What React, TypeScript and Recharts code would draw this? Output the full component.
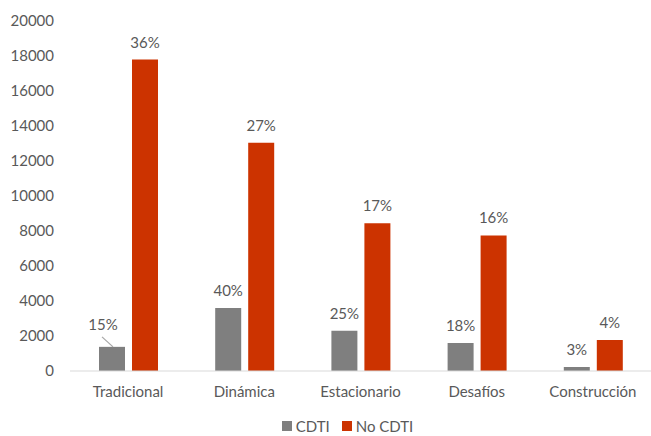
import React from 'react';
import { BarChart, Bar, XAxis, YAxis, Legend, LabelList } from 'recharts';

const categories = ['Tradicional', 'Dinámica', 'Estacionario', 'Desafíos', 'Construcción'];
const cdti = [1380, 3600, 2300, 1600, 230];
const noCdti = [17800, 13050, 8450, 7750, 1770];
const cdtiPct = ['15%', '40%', '25%', '18%', '3%'];
const noCdtiPct = ['36%', '27%', '17%', '16%', '4%'];
const yTicks = [0, 2000, 4000, 6000, 8000, 10000, 12000, 14000, 16000, 18000, 20000];

const data = categories.map((name, i) => ({
  name,
  cdti: cdti[i],
  noCdti: noCdti[i],
  cdtiPct: cdtiPct[i],
  noCdtiPct: noCdtiPct[i],
}));

const GRAY = '#7f7f7f';
const RED = '#cc3300';
const TEXT = '#595959';
const FONT = 'Lato, "Open Sans", sans-serif';
const FS = 15;

const PctLabel = (props: any) => {
  const { x, y, width, value, index, leader } = props;
  const cx = x + width / 2;
  if (leader && index === 0) {
    // first grey label sits up-left of its bar with a small leader line
    return (
      <g>
        <line x1={cx - 10} y1={y - 10} x2={cx + 1} y2={y} stroke="#a6a6a6" strokeWidth={1.2} />
        <text x={cx - 9} y={y - 17} textAnchor="middle" fill={TEXT} fontSize={FS} fontFamily={FONT}>
          {value}
        </text>
      </g>
    );
  }
  return (
    <text x={cx} y={y - 12} textAnchor="middle" fill={TEXT} fontSize={FS} fontFamily={FONT}>
      {value}
    </text>
  );
};

const LegendContent = () => (
  <div
    style={{
      display: 'flex',
      justifyContent: 'center',
      alignItems: 'center',
      paddingTop: 16,
      fontFamily: FONT,
      fontSize: FS,
      color: TEXT,
      paddingLeft: 44,
    }}
  >
    <span style={{ display: 'inline-block', width: 10, height: 10, background: GRAY, marginRight: 4 }} />
    <span style={{ marginRight: 12 }}>CDTI</span>
    <span style={{ display: 'inline-block', width: 10, height: 10, background: RED, marginRight: 4 }} />
    <span>No CDTI</span>
  </div>
);

export default function App() {
  return (
    <div style={{ position: 'fixed', left: 0, top: 0, background: '#fff' }}>
      <BarChart
        width={651}
        height={436}
        data={data}
        margin={{ top: 21, right: 0, left: 0, bottom: 5 }}
        barSize={26}
        barGap={7}
      >
        <XAxis
          dataKey="name"
          axisLine={{ stroke: '#d9d9d9' }}
          tickLine={false}
          tickMargin={9}
          height={30}
          tick={{ fill: TEXT, fontSize: FS, fontFamily: FONT }}
        />
        <YAxis
          width={70}
          domain={[0, 20000]}
          ticks={yTicks}
          interval={0}
          axisLine={false}
          tickLine={false}
          tickMargin={10}
          tick={{ fill: TEXT, fontSize: FS, fontFamily: FONT }}
        />
        <Legend verticalAlign="bottom" height={30} content={<LegendContent />} />
        <Bar dataKey="cdti" name="CDTI" fill={GRAY} isAnimationActive={false}>
          <LabelList dataKey="cdtiPct" content={<PctLabel leader />} />
        </Bar>
        <Bar dataKey="noCdti" name="No CDTI" fill={RED} isAnimationActive={false}>
          <LabelList dataKey="noCdtiPct" content={<PctLabel />} />
        </Bar>
      </BarChart>
    </div>
  );
}
